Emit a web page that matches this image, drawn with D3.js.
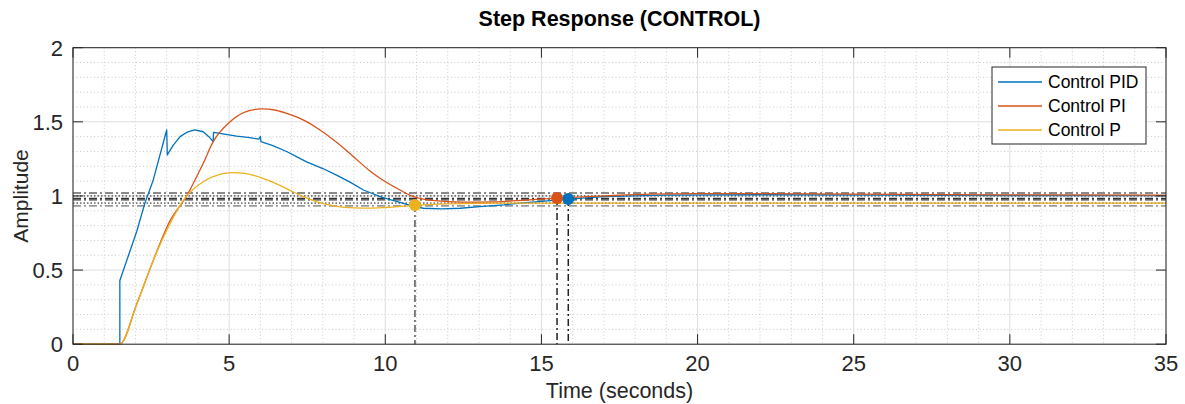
<!DOCTYPE html>
<html>
<head>
<meta charset="utf-8">
<title>Step Response (CONTROL)</title>
<script src="https://cdn.jsdelivr.net/npm/d3@7"></script>
<style>
  body { margin: 0; background: #ffffff; }
  svg { display: block; font-family: "Liberation Sans", Arial, sans-serif; }
</style>
</head>
<body>
<svg id="chart" width="1185" height="404"></svg>
<script>

// Series (time in seconds, amplitude)
var time_pid = [0, 1.5, 1.5, 2.04, 2.3, 2.57, 3.0, 3.02, 3.2, 3.43, 3.65, 3.9, 4.17, 4.35, 4.49, 4.5,
                4.9, 5.24, 5.6, 5.95, 6.0, 6.02, 6.4, 6.84, 7.2, 7.48, 8.0, 8.44, 8.9, 9.3, 9.9,
                10.47, 10.9, 11.22, 11.8, 12.4, 13.03, 13.8, 14.5, 15.2, 15.86, 17, 19, 22, 26, 30, 35];
var amp_pid  = [0, 0, 0.43, 0.76, 0.95, 1.108, 1.445, 1.276, 1.34, 1.40, 1.43, 1.445, 1.433, 1.40, 1.366, 1.429,
                1.415, 1.404, 1.395, 1.384, 1.40, 1.366, 1.34, 1.30, 1.26, 1.23, 1.185, 1.14, 1.09, 1.04, 0.99,
                0.957, 0.93, 0.917, 0.913, 0.917, 0.928, 0.94, 0.955, 0.967, 0.979, 0.995, 1.005, 1.008, 1.005, 1.003, 1.002];

var time_pi = [0, 1.5, 2.04, 2.57, 3.1, 3.64, 4.17, 4.49, 5.03, 5.5, 6.04, 6.5, 6.84, 7.4, 7.91, 8.45,
               8.98, 9.5, 9.83, 10.47, 10.9, 11.5, 12.5, 13.5, 14.5, 15.5, 17, 18.5, 20, 22, 25, 28, 31, 35];
var amp_pi  = [0, 0, 0.27, 0.565, 0.83, 1.0, 1.22, 1.366, 1.50, 1.565, 1.587, 1.578, 1.557, 1.51, 1.445, 1.36,
               1.265, 1.17, 1.119, 1.04, 0.995, 0.97, 0.958, 0.96, 0.972, 0.986, 1.0, 1.012, 1.016, 1.016, 1.012, 1.009, 1.007, 1.006];

var time_p = [0, 1.5, 2.04, 2.57, 3.1, 3.6, 4.17, 4.7, 5.1, 5.5, 6.0, 6.31, 6.84, 7.37, 7.9, 8.44,
              9.0, 9.5, 10.0, 10.95, 12, 14, 17, 35];
var amp_p  = [0, 0, 0.27, 0.565, 0.81, 0.99, 1.096, 1.145, 1.157, 1.152, 1.125, 1.10, 1.05, 0.995, 0.955, 0.93,
              0.92, 0.918, 0.922, 0.937, 0.946, 0.951, 0.952, 0.952];

var series_names = ["Control PID", "Control PI", "Control P"];

// Settling time points (one per series)
var settle_time = [15.86, 15.5, 10.95];
var settle_amp  = [0.979, 0.986, 0.939];

// Horizontal reference levels (settling bands and steady state values)
var ref_levels = [1.02, 1.0, 0.98, 0.971, 0.952, 0.933];

// Axis ticks
var x_ticks = [0, 5, 10, 15, 20, 25, 30, 35];
var y_ticks = [0, 0.5, 1, 1.5, 2];
var x_minor = d3.range(0, 36, 1);
var y_minor = d3.range(0, 2.01, 0.1);

// Styles kept apart from the data
var colors = ["#0072BD", "#D95319", "#EDB120"];
var ref_styles = [
    {stroke: "#8a8a8a", dash: "8,3,2,3", width: 2},
    {stroke: "#111111", dash: "1.5,2",   width: 1},
    {stroke: "#333333", dash: "8,3,2,3", width: 2.2},
    {stroke: "#9a9a9a", dash: "8,3,2,3", width: 1.6},
    {stroke: "#111111", dash: "1.5,2",   width: 1},
    {stroke: "#9a9a9a", dash: "8,3,2,3", width: 1.6}
];

function draw(){
    /* Build the step response chart inside #chart */

    let svg = d3.select("#chart");
    let margin = {top: 47.7, right: 19, bottom: 59.8, left: 73};
    let width = 1185 - margin.left - margin.right;
    let height = 404 - margin.top - margin.bottom;

    let x = d3.scaleLinear().domain([0, 35]).range([0, width]);
    let y = d3.scaleLinear().domain([0, 2]).range([height, 0]);

    let g = svg.append("g")
        .attr("transform", `translate(${margin.left},${margin.top})`);

    // Minor grid (dotted)
    g.append("g").selectAll("line")
      .data(x_minor.filter(d => d % 5 !== 0))
      .enter().append("line")
      .attr("x1", d => x(d)).attr("x2", d => x(d))
      .attr("y1", 0).attr("y2", height)
      .attr("stroke", "#bdbdbd").attr("stroke-width", 0.8)
      .attr("stroke-dasharray", "1,2.5");

    g.append("g").selectAll("line")
      .data(y_minor.filter(d => Math.abs(d * 2 - Math.round(d * 2)) > 0.01))
      .enter().append("line")
      .attr("x1", 0).attr("x2", width)
      .attr("y1", d => y(d)).attr("y2", d => y(d))
      .attr("stroke", "#bdbdbd").attr("stroke-width", 0.8)
      .attr("stroke-dasharray", "1,2.5");

    // Major grid (solid)
    g.append("g").selectAll("line")
      .data(x_ticks)
      .enter().append("line")
      .attr("x1", d => x(d)).attr("x2", d => x(d))
      .attr("y1", 0).attr("y2", height)
      .attr("stroke", "#dedede").attr("stroke-width", 1);

    g.append("g").selectAll("line")
      .data(y_ticks)
      .enter().append("line")
      .attr("x1", 0).attr("x2", width)
      .attr("y1", d => y(d)).attr("y2", d => y(d))
      .attr("stroke", "#dedede").attr("stroke-width", 1);

    // Horizontal reference levels
    g.append("g").selectAll("line")
      .data(ref_levels)
      .enter().append("line")
      .attr("x1", 0).attr("x2", width)
      .attr("y1", d => y(d)).attr("y2", d => y(d))
      .attr("stroke", (d, i) => ref_styles[i].stroke)
      .attr("stroke-width", (d, i) => ref_styles[i].width)
      .attr("stroke-dasharray", (d, i) => ref_styles[i].dash);

    // Response curves
    let data = [
        d3.zip(time_pid, amp_pid),
        d3.zip(time_pi, amp_pi),
        d3.zip(time_p, amp_p)
    ];
    let curves = [d3.curveLinear, d3.curveMonotoneX, d3.curveMonotoneX];

    data.forEach(function(points, i){
        let line = d3.line()
            .x(d => x(d[0]))
            .y(d => y(d[1]))
            .curve(curves[i]);

        g.append("path")
          .datum(points)
          .attr("d", line)
          .attr("fill", "none")
          .attr("stroke", colors[i])
          .attr("stroke-width", 1.3)
          .attr("stroke-linejoin", "round");
    });

    // Settling time markers: vertical dash-dot line down to the axis, then dot
    let settle = d3.zip(settle_time, settle_amp);

    g.append("g").selectAll("line")
      .data(settle)
      .enter().append("line")
      .attr("x1", d => x(d[0])).attr("x2", d => x(d[0]))
      .attr("y1", d => y(d[1])).attr("y2", height)
      .attr("stroke", (d, i) => i === 2 ? "#555555" : "#222222")
      .attr("stroke-width", 1.5)
      .attr("stroke-dasharray", "7,3,2,3");

    g.append("g").selectAll("circle")
      .data(settle)
      .enter().append("circle")
      .attr("cx", d => x(d[0]))
      .attr("cy", d => y(d[1]))
      .attr("r", 6)
      .attr("fill", (d, i) => colors[i]);

    // Box and inward ticks
    g.append("rect")
      .attr("width", width).attr("height", height)
      .attr("fill", "none").attr("stroke", "#262626").attr("stroke-width", 1);

    let tick_len = 10;
    let ticks = g.append("g").attr("stroke", "#262626").attr("stroke-width", 1);

    x_ticks.forEach(function(t){
        ticks.append("line").attr("x1", x(t)).attr("x2", x(t)).attr("y1", height).attr("y2", height - tick_len);
        ticks.append("line").attr("x1", x(t)).attr("x2", x(t)).attr("y1", 0).attr("y2", tick_len);
    });
    y_ticks.forEach(function(t){
        ticks.append("line").attr("x1", 0).attr("x2", tick_len).attr("y1", y(t)).attr("y2", y(t));
        ticks.append("line").attr("x1", width).attr("x2", width - tick_len).attr("y1", y(t)).attr("y2", y(t));
    });

    // Tick labels
    g.append("g").selectAll("text")
      .data(x_ticks)
      .enter().append("text")
      .attr("x", d => x(d))
      .attr("y", height + 27)
      .attr("text-anchor", "middle")
      .attr("font-size", "22px")
      .attr("fill", "#262626")
      .text(d => d);

    g.append("g").selectAll("text")
      .data(y_ticks)
      .enter().append("text")
      .attr("x", -10)
      .attr("y", d => y(d) + 8)
      .attr("text-anchor", "end")
      .attr("font-size", "22px")
      .attr("fill", "#262626")
      .text(d => d);

    // Axis labels and title
    svg.append("text")
      .attr("x", margin.left + width / 2)
      .attr("y", 398)
      .attr("text-anchor", "middle")
      .attr("font-size", "21.5px")
      .attr("fill", "#262626")
      .text("Time (seconds)");

    svg.append("text")
      .attr("transform", `translate(28,${margin.top + height / 2}) rotate(-90)`)
      .attr("text-anchor", "middle")
      .attr("font-size", "21px")
      .attr("fill", "#262626")
      .text("Amplitude");

    svg.append("text")
      .attr("x", margin.left + width / 2)
      .attr("y", 26)
      .attr("text-anchor", "middle")
      .attr("font-size", "21.5px")
      .attr("font-weight", "bold")
      .attr("fill", "#000000")
      .text("Step Response (CONTROL)");

    // Legend
    let legend = svg.append("g").attr("transform", "translate(992,67)");

    legend.append("rect")
      .attr("width", 154).attr("height", 77)
      .attr("fill", "#ffffff")
      .attr("stroke", "#262626").attr("stroke-width", 1);

    series_names.forEach(function(name, i){
        let row = 15 + i * 24;
        legend.append("line")
          .attr("x1", 6).attr("x2", 50)
          .attr("y1", row).attr("y2", row)
          .attr("stroke", colors[i]).attr("stroke-width", 1.3);
        legend.append("text")
          .attr("x", 56).attr("y", row + 6)
          .attr("font-size", "17.5px")
          .attr("fill", "#000000")
          .text(name);
    });
}

draw();
</script>
</body>
</html>
